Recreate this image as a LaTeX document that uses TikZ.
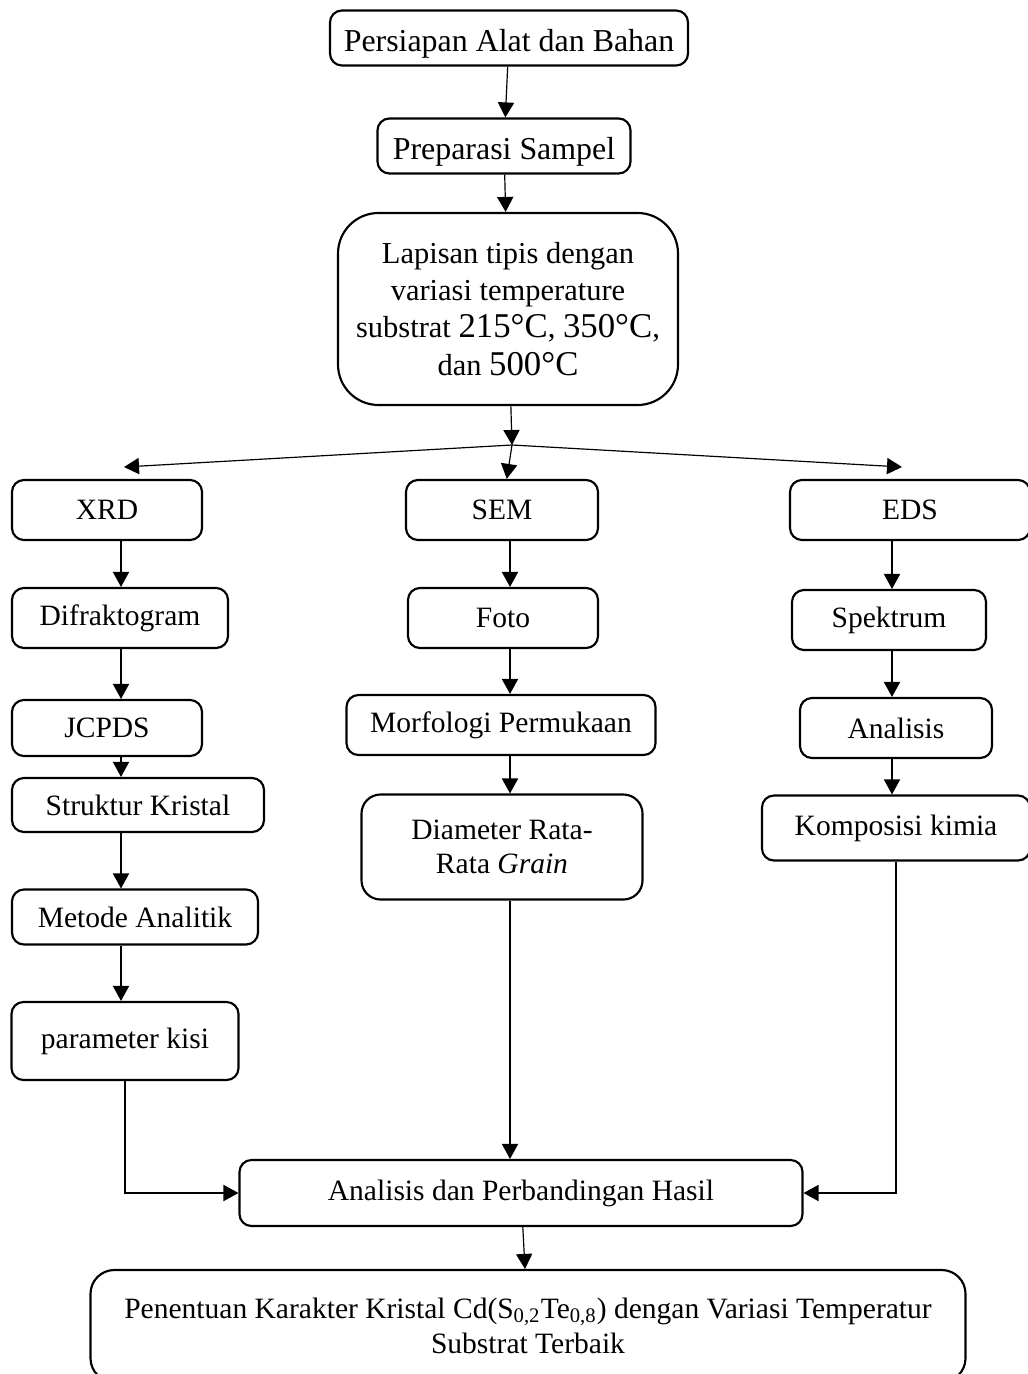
\documentclass[tikz,border=0pt]{standalone}
\usepackage{fontspec}
\setmainfont{Liberation Serif}
\usetikzlibrary{positioning,arrows.meta}

\def\unitpx{0.42pt}
\newcommand\suhu[1]{{\fontsize{14.6pt}{15.6pt}\selectfont #1°C}}
\tikzset{
  blok/.style 2 args={draw, rounded corners=5pt, line width=0.9pt, align=center,
    minimum width=#1*\unitpx, minimum height=#2*\unitpx, inner sep=0pt,
    font=\fontsize{12.4pt}{14pt}\selectfont},
  besar/.style={font=\fontsize{13.4pt}{15pt}\selectfont, text height=14pt, text depth=3pt}
}

\begin{document}
\begin{tikzpicture}[x=\unitpx,y=-\unitpx,->,>={Triangle[length=6.3pt,width=6.8pt]},line width=0.5pt]
    \useasboundingbox (0,0) rectangle (1027,1374);

    \node[blok={358}{55}, besar] (1) at (509,38) {Persiapan Alat dan Bahan};
    \node[blok={253}{55}, besar] (2) at (504,146) {Preparasi Sampel};
    \node[blok={340}{192}, rounded corners=17pt, font=\fontsize{12.8pt}{15.6pt}\selectfont] (3) at (508,309)
        {Lapisan tipis dengan\\variasi temperature\\substrat \suhu{215}, \suhu{350},\\dan \suhu{500}};

    % tiga cabang pengujian
    \node[blok={190}{60}] (4) at (107,510) {XRD};
    \node[blok={192}{60}] (5) at (502,510) {SEM};
    \node[blok={240}{60}] (6) at (910,510) {EDS};

    \node[blok={216}{60}] (7) at (120,618) {Difraktogram};
    \node[blok={190}{60}] (8) at (503,618) {Foto};
    \node[blok={194}{60}] (9) at (889,620) {Spektrum};

    \node[blok={190}{56}] (10) at (107,728) {JCPDS};
    \node[blok={309}{60}] (11) at (501,725) {Morfologi Permukaan};
    \node[blok={192}{60}] (12) at (896,728) {Analisis};

    \node[blok={252}{54}] (13) at (138,805) {Struktur Kristal};
    \node[blok={281}{105}, rounded corners=8pt] (14) at (502,847) {Diameter Rata-\\Rata \textit{Grain}};
    \node[blok={268}{65}] (15) at (896,828) {Komposisi kimia};

    \node[blok={246}{55}] (16) at (135,917) {Metode Analitik};
    \node[blok={227}{78}] (17) at (125,1041) {parameter kisi};

    \node[blok={563}{66}] (18) at (521,1193) {Analisis dan Perbandingan Hasil};
    \node[blok={875}{112}, rounded corners=10pt, font=\fontsize{12.4pt}{14.7pt}\selectfont] (19) at (528,1326)
        {Penentuan Karakter Kristal Cd(S\textsubscript{0,2}Te\textsubscript{0,8}) dengan Variasi Temperatur\\Substrat Terbaik};

    %\node[above of=4, node distance=1cm] (ph) {};
    \coordinate (s) at (512,445);
    \coordinate (kiri) at (124,467);
    \coordinate (kanan) at (902,467);
    \coordinate (a) at (121,0);
    \coordinate (b) at (510,0);
    \coordinate (c) at (892,0);

    \path
    (1) edge (2)
    (2) edge (3)
    (3) edge (s)
    (s) edge (kiri)
    (s) edge (kanan)
    (s) edge (5)
    (a |- 4.south) edge (a |- 7.north)
    (a |- 7.south) edge (a |- 10.north)
    (a |- 10.south) edge (a |- 13.north)
    (a |- 13.south) edge (a |- 16.north)
    (a |- 16.south) edge (a |- 17.north)
    (b |- 5.south) edge (b |- 8.north)
    (b |- 8.south) edge (b |- 11.north)
    (b |- 11.south) edge (b |- 14.north)
    (b |- 14.south) edge (b |- 18.north)
    (c |- 6.south) edge (c |- 9.north)
    (c |- 9.south) edge (c |- 12.north)
    (c |- 12.south) edge (c |- 15.north)
    (18) edge (19);

    \draw (17) |- (18);
    \draw (15) |- (18);
\end{tikzpicture}
\end{document}
